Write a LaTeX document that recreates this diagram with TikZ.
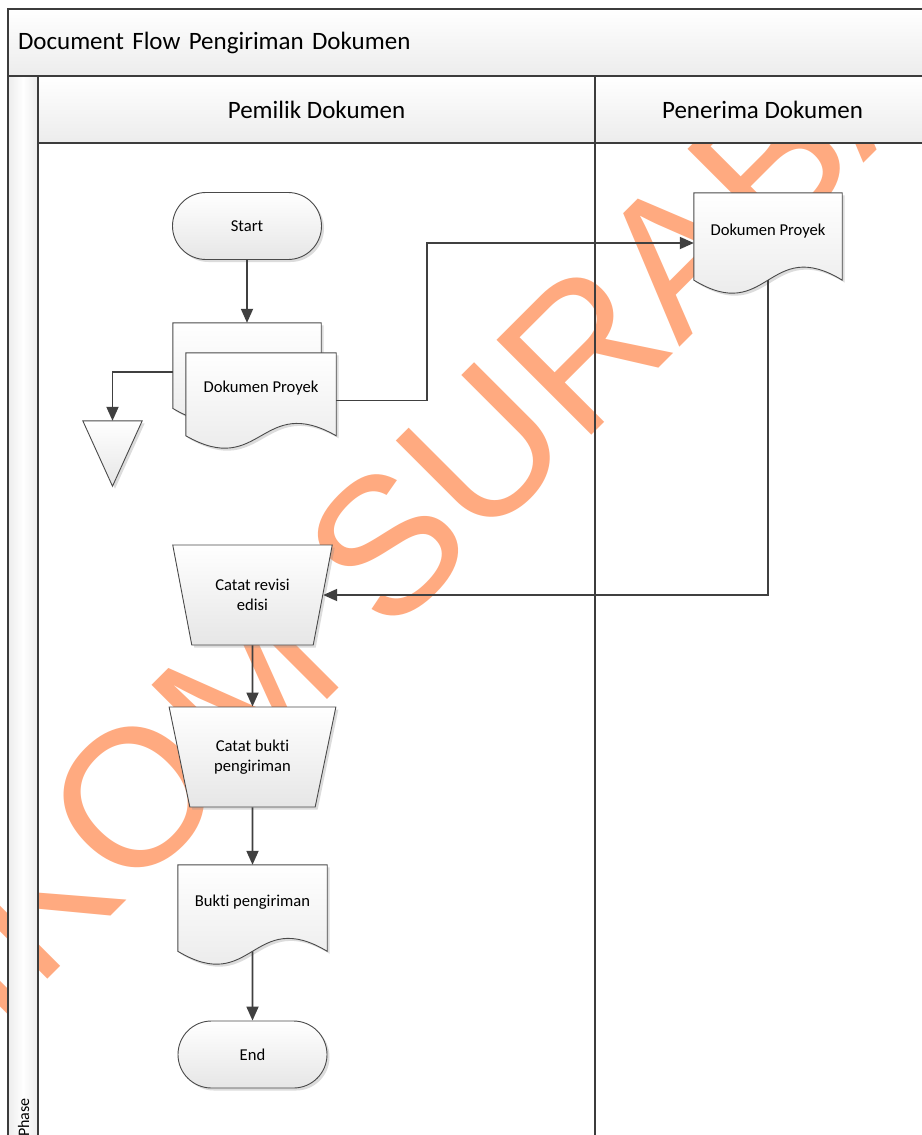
\documentclass[tikz,border=0pt]{standalone}
\usepackage{fontspec}
\setmainfont{Carlito}[Ligatures=NoCommon]
\newfontfamily\wmfamily{Liberation Sans}
\usetikzlibrary{arrows.meta,calc,shapes.geometric,shapes.misc,shadows}

\definecolor{linec}{HTML}{404040}
\definecolor{edgec}{HTML}{4A4A4A}
\definecolor{poolc}{HTML}{3C3C3C}
\definecolor{fillb}{HTML}{E6E6E6}
\definecolor{hdrb}{HTML}{ECECEC}
\definecolor{wmc}{HTML}{FFAA80}

\pgfdeclarelayer{wm}
\pgfdeclarelayer{pool}
\pgfdeclarelayer{shp}
\pgfsetlayers{wm,pool,shp,main}

% lift a label towards the top of a document symbol without changing its box
\newcommand\liftup[1]{\raisebox{12pt}[\height][\depth]{#1}}
% document symbol: flat top, straight sides, wavy bottom edge
\newcommand\docoutline[1]{%
  \path[shapefill] (#1.north west) -- (#1.north east)
    -- ($(#1.south east)!0.13!(#1.north east)$)
    .. controls ($(#1.south)!0.58!(#1.north)$) and ($(#1.south)!-0.32!(#1.north)$)
    .. ($(#1.south west)!0.13!(#1.north west)$) -- cycle;}

\begin{document}
\begin{tikzpicture}[x=1pt,y=-1pt,
  line/.style={draw=linec, line width=1.8pt},
  arr/.style={line, -{Triangle[length=14pt,width=12pt]}},
  shapefill/.style={draw=edgec, line width=0.9pt, top color=white, bottom color=fillb,
    drop shadow={shadow xshift=2.5pt, shadow yshift=-2.5pt, fill=black!45, opacity=0.3}},
  nodefont/.style={font=\fontsize{16.6}{20.5}\selectfont},
  box/.style={nodefont, inner sep=0pt, align=center},
  terminal/.style={shapefill, box, rounded rectangle, minimum width=149pt, minimum height=67pt},
  manualop/.style={shapefill, box, trapezium, shape border rotate=180, trapezium angle=70,
    trapezium stretches=true, minimum height=100pt},
  docnode/.style={box, rectangle, minimum width=149pt},
  poolline/.style={draw=poolc, line width=1.6pt},
  header/.style={poolline, rectangle, top color=white, bottom color=hdrb, inner sep=0pt,
    font=\fontsize{25}{30}\selectfont},
  wmtext/.style={font=\wmfamily\fontsize{195}{195}\selectfont, text=wmc, inner sep=0pt, rotate=45}
]
\useasboundingbox (0,0) rectangle (921,1135);

% watermark lettering behind everything
\begin{pgfonlayer}{wm}
  \fill[white] (0,0) rectangle (921,1135);
  \node[wmtext, anchor=base west] (wmright) at (388.5,638.5) {SURABAYA};
  \node[wmtext, anchor=base east] (wmleft) at (350.3,676.7) {STIKOM};
\end{pgfonlayer}

% pool with title bar, phase column and two lanes
\begin{pgfonlayer}{pool}
  \node[header, minimum width=922pt, minimum height=67pt, text width=902pt, align=left,
        inner xsep=10pt] (title) at (469,42.5) {Document Flow Pengiriman Dokumen};
  \node[poolline, rectangle, left color=hdrb, right color=hdrb, middle color=white,
        minimum width=30pt, minimum height=1064pt, inner sep=0pt] (phasecol) at (23,608) {};
  \node[font=\fontsize{16}{19}\selectfont, rotate=90, anchor=base west, inner sep=0pt]
        (phase) at (29,1137) {Phase};
  \node[header, minimum width=557pt, minimum height=67pt] (lane1) at (316.5,109.5) {Pemilik Dokumen};
  \node[header, minimum width=335pt, minimum height=67pt] (lane2) at (762.5,109.5) {Penerima Dokumen};
  \node[poolline, rectangle, minimum width=557pt, minimum height=997pt] (body1) at (316.5,641.5) {};
  \node[poolline, rectangle, minimum width=335pt, minimum height=997pt] (body2) at (762.5,641.5) {};
\end{pgfonlayer}

% flow symbols
\node[terminal] (start) at (247,226) {Start};
\node[docnode, minimum width=148pt, minimum height=98pt] (db) at (247,372) {};
\node[docnode, minimum width=150pt, minimum height=95pt] (df) at (261,400.5) {\liftup{Dokumen Proyek}};
\node[inner sep=0pt, minimum width=59pt, minimum height=65pt] (tri) at (112.5,453.5) {};
\node[docnode, minimum width=148pt, minimum height=100pt] (rd) at (768,243) {\liftup{Dokumen Proyek}};
\node[manualop, minimum width=160pt] (tr1) at (252.5,595) {Catat revisi\\edisi};
\node[manualop, minimum width=167pt] (tr2) at (252.5,757) {Catat bukti\\pengiriman};
\node[docnode, minimum height=99pt] (bd) at (252.5,914.5) {\liftup{Bukti pengiriman}};
\node[terminal] (end) at (252.5,1054.5) {End};

\begin{pgfonlayer}{shp}
  \docoutline{db}
  \docoutline{df}
  \docoutline{rd}
  \docoutline{bd}
  \path[shapefill] (tri.north west) -- (tri.north east) -- (tri.south) -- cycle;
\end{pgfonlayer}

% connection points
\coordinate (j1) at (427,243);
\coordinate (rdout) at ($(rd.south)!0.13!(rd.north)$);
\coordinate (bdout) at ($(bd.south)!0.13!(bd.north)$);

% connectors
\draw[arr] (start) -- (db);
\draw[arr] (db.west) -| (tri.north);
\draw[arr] (df.east) -| (j1) -- (rd.west);
\draw[arr] (rdout) |- (tr1);
\draw[arr] (tr1) -- (tr2);
\draw[arr] (tr2) -- (bd);
\draw[arr] (bdout) -- (end);
\end{tikzpicture}
\end{document}
